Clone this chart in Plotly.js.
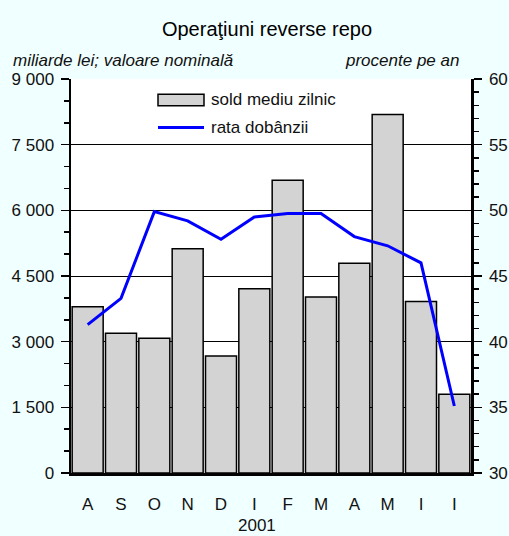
<!DOCTYPE html>
<html>
<head>
<meta charset="utf-8">
<script src="https://cdn.plot.ly/plotly-3.0.1.min.js"></script>
<style>
  html, body { margin: 0; padding: 0; background: #F0FFFF; }
  #chart { width: 509px; height: 536px; }
</style>
</head>
<body>
<div id="chart"></div>
<script>
const months = ['A','S','O','N','D','I','F','M','A','M','I','I'];
const soldMediuZilnic = [3800, 3190, 3080, 5120, 2670, 4210, 6690, 4020, 4790, 8190, 3920, 1800];
const rataDobanzii = [41.3, 43.3, 49.9, 49.2, 47.8, 49.5, 49.75, 49.75, 48.0, 47.3, 46.0, 35.1];
const yearLabel = '2001';
const leftTicks = [0, 1500, 3000, 4500, 6000, 7500, 9000];
const rightTicks = [30, 35, 40, 45, 50, 55, 60];

const xIdx = months.map((_, i) => i);
const FONT = 'Liberation Sans, Arial, Helvetica, sans-serif';

const traces = [
  {
    type: 'bar', name: 'sold mediu zilnic',
    x: xIdx, y: soldMediuZilnic, yaxis: 'y',
    marker: { color: '#D3D3D3', line: { color: '#000000', width: 1.5 } },
    hoverinfo: 'skip', showlegend: false
  },
  {
    type: 'scatter', mode: 'lines', name: 'rata dobânzii',
    x: xIdx, y: rataDobanzii, yaxis: 'y2',
    line: { color: '#0000FF', width: 3 },
    hoverinfo: 'skip', showlegend: false
  }
];

const layout = {
  width: 509, height: 536,
  margin: { l: 71, r: 38, t: 79, b: 63 },
  paper_bgcolor: '#F0FFFF',
  plot_bgcolor: '#FFFFFF',
  separators: ', ',
  bargap: 0.07,
  font: { family: FONT, size: 17, color: '#111111' },
  title: {
    text: 'Operaţiuni reverse repo',
    font: { family: FONT, size: 20, color: '#000000' },
    xref: 'paper', x: 0.49, xanchor: 'center',
    yref: 'container', y: 0.946, yanchor: 'middle'
  },
  xaxis: {
    range: [-0.5, 11.5],
    tickmode: 'array', tickvals: xIdx, ticktext: months,
    ticks: '', ticklabelstandoff: 14,
    showgrid: false, zeroline: false,
    showline: true, linecolor: '#000000', linewidth: 3,
    tickfont: { family: FONT, size: 17, color: '#111111' },
    fixedrange: true
  },
  yaxis: {
    range: [0, 9000],
    tickmode: 'array', tickvals: leftTicks,
    tickformat: ',d',
    ticks: 'outside', ticklen: 8, tickwidth: 1.5, tickcolor: '#000000',
    ticklabelstandoff: 3,
    minor: { dtick: 500, tick0: 0, ticks: 'outside', ticklen: 5, tickwidth: 1.5, tickcolor: '#000000', showgrid: false },
    showgrid: true, gridcolor: '#000000', gridwidth: 1,
    zeroline: false,
    showline: true, linecolor: '#000000', linewidth: 2.5,
    tickfont: { family: FONT, size: 17, color: '#111111' },
    fixedrange: true
  },
  yaxis2: {
    range: [30, 60], overlaying: 'y', side: 'right',
    tickmode: 'array', tickvals: rightTicks,
    ticks: 'outside', ticklen: 8, tickwidth: 1.5, tickcolor: '#000000',
    ticklabelstandoff: 4,
    minor: { dtick: 1, tick0: 30, ticks: 'outside', ticklen: 5, tickwidth: 1.5, tickcolor: '#000000', showgrid: false },
    showgrid: false, zeroline: false,
    showline: true, linecolor: '#000000', linewidth: 2.5,
    tickfont: { family: FONT, size: 17, color: '#111111' },
    fixedrange: true
  },
  shapes: [
    { type: 'rect', xref: 'paper', yref: 'paper', x0: 0.2175, x1: 0.3325, y0: 0.932, y1: 0.961,
      fillcolor: '#D3D3D3', line: { color: '#000000', width: 1.5 } },
    { type: 'line', xref: 'paper', yref: 'paper', x0: 0.2175, x1: 0.3325, y0: 0.877, y1: 0.877,
      line: { color: '#0000FF', width: 3 } }
  ],
  annotations: [
    { text: 'sold mediu zilnic', xref: 'paper', yref: 'paper', x: 0.345, y: 0.947,
      xanchor: 'left', yanchor: 'middle', showarrow: false,
      font: { family: FONT, size: 17, color: '#111111' } },
    { text: 'rata dobânzii', xref: 'paper', yref: 'paper', x: 0.345, y: 0.877,
      xanchor: 'left', yanchor: 'middle', showarrow: false,
      font: { family: FONT, size: 17, color: '#111111' } },
    { text: '<i>miliarde lei; valoare nominală</i>', xref: 'paper', yref: 'paper',
      x: -0.15, y: 1, yshift: 19, xanchor: 'left', yanchor: 'middle', showarrow: false,
      font: { family: FONT, size: 17, color: '#111111' } },
    { text: '<i>procente pe an</i>', xref: 'paper', yref: 'paper',
      x: 0.975, y: 1, yshift: 19, xanchor: 'right', yanchor: 'middle', showarrow: false,
      font: { family: FONT, size: 17, color: '#111111' } },
    { text: yearLabel, xref: 'paper', yref: 'paper',
      x: 0.465, y: -0.133, xanchor: 'center', yanchor: 'middle', showarrow: false,
      font: { family: FONT, size: 17, color: '#111111' } }
  ]
};

Plotly.newPlot('chart', traces, layout, { staticPlot: true, displayModeBar: false });
</script>
</body>
</html>
